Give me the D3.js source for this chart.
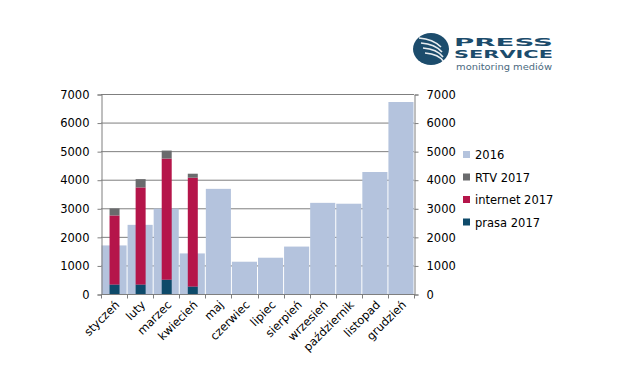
<!DOCTYPE html>
<html><head><meta charset="utf-8">
<script src="https://cdn.jsdelivr.net/npm/d3@7"></script>
<style>body{margin:0;background:#fff}svg{display:block}text{font-family:"DejaVu Sans",Verdana,sans-serif}</style>
</head><body>
<script>
const months = ["styczeń","luty","marzec","kwiecień","maj","czerwiec","lipiec","sierpień","wrzesień","październik","listopad","grudzień"];
const v2016 = [1700,2420,2990,1420,3680,1130,1270,1660,3190,3160,4270,6720];
const prasa2017 = [330,330,500,260];
const internet2017 = [2420,3400,4240,3810];
const rtv2017 = [245,290,280,140];
const yTicks = [0,1000,2000,3000,4000,5000,6000,7000];
const legendLabels = ["2016","RTV 2017","internet 2017","prasa 2017"];
const colors = {"2016":"#b4c3dd","RTV 2017":"#6a6b6d","internet 2017":"#b5154a","prasa 2017":"#0e4a6a"};

const W=643,H=391;
const svg=d3.select("body").append("svg").attr("width",W).attr("height",H);
const x=d3.scaleBand().domain(months).range([101,414]).padding(0);
const y=d3.scaleLinear().domain([0,7000]).range([294,94]);

// grid
svg.append("g").selectAll("line").data(yTicks.slice(1)).join("line")
 .attr("x1",101).attr("x2",414).attr("y1",d=>y(d)+0.5).attr("y2",d=>y(d)+0.5)
 .attr("stroke","#7f7f7f").attr("stroke-width",1);

// 2016 bars
svg.append("g").selectAll("rect").data(months).join("rect")
 .attr("x",d=>x(d)+0.5).attr("width",x.bandwidth()-1)
 .attr("y",(d,i)=>y(v2016[i])).attr("height",(d,i)=>y(0)-y(v2016[i]))
 .attr("fill",colors["2016"]);

// stacked 2017
const rows=prasa2017.map((p,i)=>({m:months[i],prasa:p,internet:internet2017[i],rtv:rtv2017[i]}));
const stack=d3.stack().keys(["prasa","internet","rtv"])(rows);
const keyCol={prasa:colors["prasa 2017"],internet:colors["internet 2017"],rtv:colors["RTV 2017"]};
const bw=10;
svg.append("g").selectAll("g").data(stack).join("g").attr("fill",s=>keyCol[s.key])
 .selectAll("rect").data(s=>s).join("rect")
 .attr("x",d=>x(d.data.m)+x.bandwidth()/2-bw/2+0.5).attr("width",bw)
 .attr("y",d=>y(d[1])).attr("height",d=>y(d[0])-y(d[1]));

// axes
const axL=d3.axisLeft(y).tickValues(yTicks).tickSize(4).tickFormat(d3.format("d"));
const gL=svg.append("g").attr("transform","translate(101.5,0.5)").call(axL);
const axR=d3.axisRight(y).tickValues(yTicks).tickSize(4).tickFormat(d3.format("d"));
const gR=svg.append("g").attr("transform","translate(414.5,0.5)").call(axR);
[gL,gR].forEach(g=>{g.select(".domain").attr("stroke","#7f7f7f");g.selectAll(".tick line").attr("stroke","#7f7f7f");
 g.selectAll("text").attr("font-size",11.5).attr("fill","#000");});
gL.selectAll("text").attr("x",-12);
gR.selectAll("text").attr("x",12);

// bottom axis
const gB=svg.append("g").attr("transform","translate(0,294.5)");
gB.append("line").attr("x1",101).attr("x2",415).attr("stroke","#7f7f7f");
const bounds=months.map(m=>x(m)).concat([x.range()[1]]);
gB.selectAll("line.t").data(bounds).join("line").attr("class","t")
 .attr("x1",d=>Math.round(d)+0.5).attr("x2",d=>Math.round(d)+0.5).attr("y1",0).attr("y2",4).attr("stroke","#7f7f7f");
gB.selectAll("text").data(months).join("text")
 .attr("transform",d=>`translate(${x(d)+x.bandwidth()/2+6},${11}) rotate(-45)`)
 .attr("text-anchor","end").attr("font-size",11.5).attr("fill","#000").text(d=>d);

// legend
const lg=svg.append("g").attr("transform","translate(463,150)");
legendLabels.forEach((l,i)=>{
 const g=lg.append("g").attr("transform",`translate(0,${i*22.5})`);
 g.append("rect").attr("width",7).attr("height",7).attr("y",1).attr("fill",colors[l]);
 g.append("text").attr("x",12).attr("y",9).attr("font-size",11.5).attr("fill","#000").text(l);
});

// logo
const logo=svg.append("g");
logo.append("ellipse").attr("cx",431).attr("cy",49).attr("rx",18).attr("ry",16).attr("fill","#1c4c6c");
[0,1,2,3].forEach(i=>{
 logo.append("path").attr("d",`M${419+i*2},${38+i*5} Q${433+i*2},${39+i*5} ${441+i*1},${47+i*5}`)
  .attr("stroke","#fff").attr("stroke-width",1.6).attr("fill","none").attr("opacity",0.9);
});
logo.append("text").attr("x",454).attr("y",45.5).attr("font-size",11).attr("font-weight","bold")
 .attr("fill","#1c4c6c").attr("textLength",99).attr("lengthAdjust","spacingAndGlyphs").text("PRESS");
logo.append("text").attr("x",454).attr("y",58.2).attr("font-size",11).attr("font-weight","bold")
 .attr("fill","#1c4c6c").attr("textLength",99).attr("lengthAdjust","spacingAndGlyphs").text("SERVICE");
logo.append("text").attr("x",456).attr("y",70).attr("font-size",9).attr("fill","#4a6a80")
 .attr("textLength",96).attr("lengthAdjust","spacingAndGlyphs").text("monitoring mediów");
</script>
</body></html>
